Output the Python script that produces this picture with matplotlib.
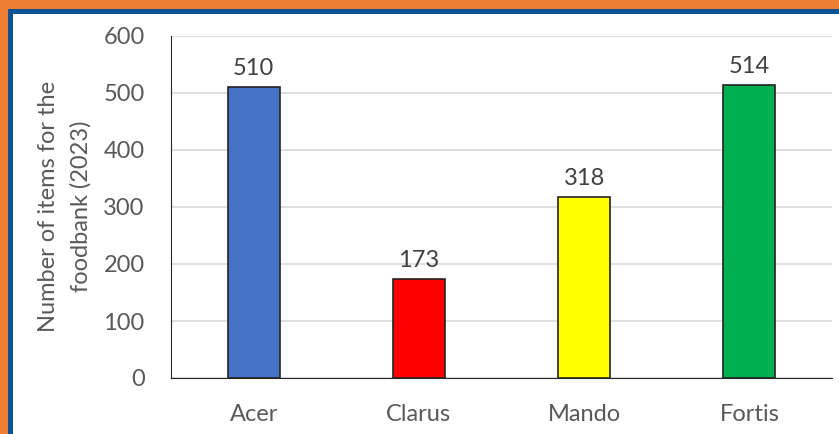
import matplotlib.pyplot as plt
from matplotlib.patches import Rectangle

houses = ["Acer", "Clarus", "Mando", "Fortis"]
items = [510, 173, 318, 514]
colours = ["#4472C4", "#FF0000", "#FFFF00", "#00B050"]

plt.rcParams['font.family'] = ['Lato', 'DejaVu Sans']
W, H = 839, 434
fig = plt.figure(figsize=(W / 100, H / 100), dpi=100)

# frame: orange outer, blue inner (only top and left are visible in the crop)
fig.patches.append(Rectangle((0, 0), 1, 1, transform=fig.transFigure,
                             facecolor="#ED7D31", edgecolor="none", zorder=-3))
fig.patches.append(Rectangle((8 / W, 0), 1, 1 - 9 / H, transform=fig.transFigure,
                             facecolor="#0B5394", edgecolor="none", zorder=-2))
fig.patches.append(Rectangle((13 / W, 0), 1, 1 - 14 / H, transform=fig.transFigure,
                             facecolor="white", edgecolor="none", zorder=-1))

ax = fig.add_axes([171 / W, 1 - 378 / H, (832 - 171) / W, (378 - 36) / H])
ax.set_facecolor("none")
x = range(len(houses))
bars = ax.bar(x, items, width=0.315, color=colours, edgecolor="#222222", linewidth=1.2, zorder=3)
for xi, v in zip(x, items):
    ax.text(xi, v + 14, str(v), ha="center", va="bottom", fontsize=17, color="#404040")

ax.set_xlim(-0.5, 3.5)
ax.set_ylim(0, 600)
ax.set_yticks(range(0, 601, 100))
ax.set_xticks(list(x))
ax.set_xticklabels(houses)
ax.grid(axis="y", color="#D9D9D9", linewidth=1.2, zorder=0)
ax.tick_params(axis="both", length=0, labelsize=17, labelcolor="#595959")
ax.tick_params(axis="x", pad=19)
ax.tick_params(axis="y", pad=19)
for s in ["top", "right"]:
    ax.spines[s].set_visible(False)
ax.spines["left"].set_color("#262626")
ax.spines["bottom"].set_color("#262626")
fig.text(65 / W, 1 - 206 / H, "Number of items for the\nfoodbank (2023)", rotation=90,
         ha="center", va="center", multialignment="center", fontsize=17,
         color="#595959", linespacing=1.6)

fig.savefig("out.png", dpi=100)
